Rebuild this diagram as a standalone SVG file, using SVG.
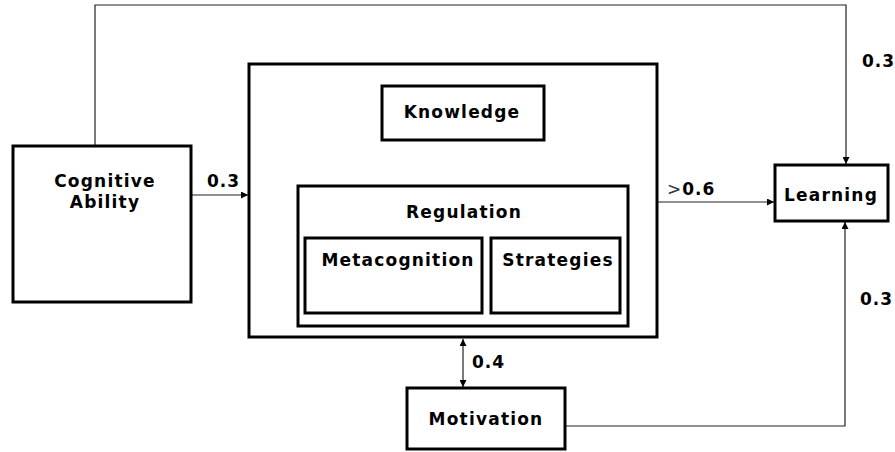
<svg xmlns="http://www.w3.org/2000/svg" width="895" height="452" viewBox="0 0 895 452">
  <style>
    .box { fill: #fff; stroke: #000; stroke-width: 3; }
    .lbl { font-family: "DejaVu Sans", Verdana, sans-serif; font-weight: bold; font-size: 17px; letter-spacing: 1.2px; fill: #000; }
    .num { font-family: "DejaVu Sans", Verdana, sans-serif; font-weight: bold; font-size: 17px; letter-spacing: 1px; fill: #000; }
    .gt { font-weight: normal; fill: #333; }
    .wire { fill: none; stroke: #222; stroke-width: 1.2; }
  </style>
  <defs>
    <marker id="arr" viewBox="0 0 8 8" refX="8" refY="4" markerWidth="7" markerHeight="7" markerUnits="userSpaceOnUse" orient="auto-start-reverse">
      <path d="M0,0 L8,4 L0,8 Z" fill="#000"/>
    </marker>
  </defs>
  <rect width="895" height="452" fill="#fff"/>

  <g id="connectors">
    <!-- Cognitive Ability over the top to Learning -->
    <path class="wire" d="M95,146 V5 H846 V164" stroke="#555" marker-end="url(#arr)"/>
    <!-- Cognitive Ability to self-regulation block -->
    <path class="wire" d="M191,195 H248" marker-end="url(#arr)"/>
    <!-- Regulation to Knowledge -->
    <path class="wire" d="M463,186 V141" marker-end="url(#arr)"/>
    <!-- Block to Learning -->
    <path class="wire" d="M657,202 H774" marker-end="url(#arr)"/>
    <!-- Block <-> Motivation -->
    <path class="wire" d="M463,339 V387" marker-start="url(#arr)" marker-end="url(#arr)"/>
    <!-- Motivation to Learning -->
    <path class="wire" d="M565,426 H845 V222" marker-end="url(#arr)"/>
    <text class="num" x="207" y="187">0.3</text>
    <text class="num" x="471" y="172">0.6</text>
    <text class="num" x="667" y="195"><tspan class="gt">&gt;</tspan>0.6</text>
    <text class="num" x="862" y="67">0.3</text>
    <text class="num" x="860" y="305">0.3</text>
    <text class="num" x="472" y="368">0.4</text>
  </g>

  <g id="cognitive-ability">
    <rect class="box" x="13" y="146" width="178" height="156"/>
    <text class="lbl" x="105" y="187" text-anchor="middle">Cognitive</text>
    <text class="lbl" x="105" y="208" text-anchor="middle">Ability</text>
  </g>

  <g id="self-regulation">
    <rect class="box" x="249" y="64" width="408" height="273"/>
  </g>

  <g id="knowledge">
    <rect class="box" x="382" y="86" width="162" height="54"/>
    <text class="lbl" x="462" y="118" text-anchor="middle">Knowledge</text>
  </g>

  <g id="regulation">
    <rect class="box" x="298" y="186" width="330" height="140"/>
    <text class="lbl" x="464" y="218" text-anchor="middle">Regulation</text>
  </g>

  <g id="metacognition">
    <rect class="box" x="305" y="238" width="177" height="75"/>
    <text class="lbl" x="398" y="266" text-anchor="middle">Metacognition</text>
  </g>

  <g id="strategies">
    <rect class="box" x="491" y="238" width="129" height="75"/>
    <text class="lbl" x="558" y="266" text-anchor="middle">Strategies</text>
  </g>

  <g id="learning">
    <rect class="box" x="775" y="165" width="113" height="56"/>
    <text class="lbl" x="831" y="201" text-anchor="middle">Learning</text>
  </g>

  <g id="motivation">
    <rect class="box" x="407" y="388" width="158" height="61"/>
    <text class="lbl" x="486" y="425" text-anchor="middle">Motivation</text>
  </g>
</svg>
